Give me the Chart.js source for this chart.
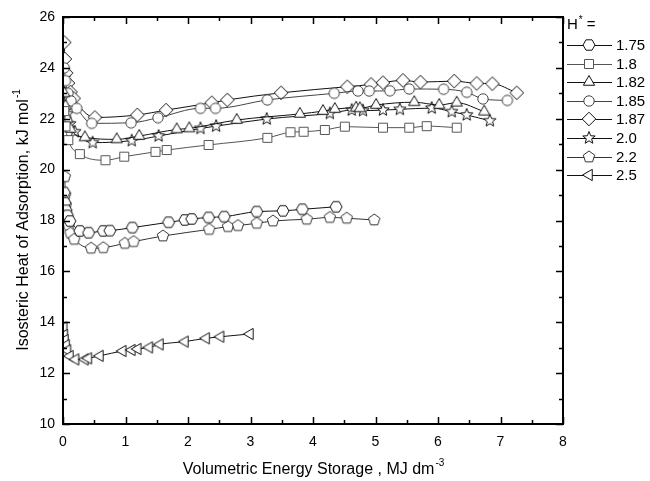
<!DOCTYPE html>
<html>
<head>
<meta charset="utf-8">
<script src="https://cdn.jsdelivr.net/npm/chart.js@4.4.1/dist/chart.umd.min.js"></script>
<style>
  html, body { margin: 0; padding: 0; background: #fff; }
  #wrap { width: 650px; height: 481px; position: relative; }
</style>
</head>
<body>
<div id="wrap"><canvas id="heatChart" width="650" height="481"></canvas></div>
<script>
// --- data ---
const seriesNames = ['1.75', '1.8', '1.82', '1.85', '1.87', '2.0', '2.2', '2.5'];

const h175X = [0.02, 0.03, 0.05, 0.07, 0.11, 0.27, 0.41, 0.645, 0.75, 1.11, 1.69, 1.95, 2.06, 2.33, 2.58, 3.1, 3.52, 3.83, 4.37];
const h175Y = [19.1, 18.7, 18.4, 18.2, 17.98, 17.59, 17.52, 17.59, 17.6, 17.72, 17.93, 18.02, 18.06, 18.12, 18.15, 18.35, 18.38, 18.44, 18.54];

const h18X = [0.02, 0.04, 0.085, 0.27, 0.68, 0.98, 1.48, 1.66, 2.33, 3.27, 3.64, 3.85, 4.19, 4.51, 5.12, 5.54, 5.82, 6.3];
const h18Y = [22.3, 21.7, 21.16, 20.61, 20.37, 20.51, 20.7, 20.77, 20.97, 21.25, 21.47, 21.49, 21.56, 21.69, 21.65, 21.65, 21.71, 21.65];

const h182X = [0.02, 0.04, 0.07, 0.12, 0.35, 0.86, 1.22, 1.82, 2.02, 2.78, 3.79, 4.16, 4.35, 4.69, 4.75, 5.01, 5.62, 6.02, 6.3, 6.74];
const h182Y = [23.0, 22.5, 22.0, 21.6, 21.27, 21.19, 21.32, 21.58, 21.62, 21.95, 22.19, 22.3, 22.38, 22.43, 22.41, 22.54, 22.65, 22.54, 22.63, 22.28];

const h185X = [0.02, 0.04, 0.08, 0.13, 0.22, 0.46, 1.09, 1.52, 2.2, 2.44, 3.27, 4.34, 4.72, 4.9, 5.23, 5.54, 6.09, 6.46, 6.72, 7.11];
const h185Y = [24.0, 23.5, 23.0, 22.7, 22.41, 21.82, 21.84, 22.04, 22.41, 22.41, 22.74, 23.0, 23.09, 23.09, 23.1, 23.17, 23.16, 23.04, 22.78, 22.72];

const h187X = [0.02, 0.03, 0.05, 0.08, 0.12, 0.17, 0.51, 1.19, 1.65, 2.38, 2.63, 3.49, 4.55, 4.93, 5.12, 5.44, 5.72, 6.26, 6.62, 6.87, 7.26];
const h187Y = [25.0, 24.35, 23.8, 23.4, 23.05, 22.8, 22.05, 22.15, 22.34, 22.63, 22.74, 23.02, 23.26, 23.35, 23.42, 23.51, 23.44, 23.48, 23.39, 23.38, 23.02];

const h20X = [0.02, 0.04, 0.07, 0.11, 0.19, 0.475, 1.1, 1.53, 2.2, 2.45, 3.26, 4.27, 4.62, 4.8, 5.12, 5.39, 5.9, 6.22, 6.46, 6.83];
const h20Y = [23.6, 22.8, 22.2, 21.8, 21.49, 21.06, 21.14, 21.32, 21.62, 21.71, 21.99, 22.21, 22.34, 22.32, 22.34, 22.37, 22.42, 22.28, 22.15, 21.92];

const h22X = [0.03, 0.035, 0.045, 0.06, 0.09, 0.12, 0.18, 0.45, 0.645, 0.99, 1.13, 1.6, 2.34, 2.64, 2.8, 3.1, 3.36, 3.9, 4.27, 4.54, 4.98];
const h22Y = [19.72, 19.0, 18.6, 18.2, 17.8, 17.5, 17.26, 16.91, 16.93, 17.1, 17.17, 17.39, 17.65, 17.76, 17.8, 17.89, 17.98, 18.05, 18.12, 18.09, 18.02];

const h25X = [0.01, 0.02, 0.03, 0.05, 0.07, 0.11, 0.2, 0.35, 0.405, 0.59, 0.955, 1.1, 1.195, 1.38, 1.55, 1.95, 2.29, 2.52, 2.99];
const h25Y = [13.8, 13.5, 13.3, 13.1, 12.9, 12.67, 12.54, 12.54, 12.58, 12.68, 12.87, 12.91, 12.95, 13.01, 13.13, 13.24, 13.37, 13.43, 13.54];

const xTicks = [0, 1, 2, 3, 4, 5, 6, 7, 8];
const yTicks = [10, 12, 14, 16, 18, 20, 22, 24, 26];

// --- markers (open symbols drawn on small canvases) ---
function makeMarker(shape, color) {
    const s = 16, c = s / 2;
    const cv = document.createElement('canvas');
    cv.width = s; cv.height = s;
    const g = cv.getContext('2d');
    g.strokeStyle = color;
    g.fillStyle = '#fff';
    g.lineWidth = 1;
    g.beginPath();
    const poly = (n, r, rot) => {
        for (let i = 0; i < n; i++) {
            const a = rot + i * 2 * Math.PI / n;
            const px = c + r * Math.cos(a), py = c + r * Math.sin(a);
            i === 0 ? g.moveTo(px, py) : g.lineTo(px, py);
        }
        g.closePath();
    };
    if (shape === 'hex') poly(6, 6, 0);
    else if (shape === 'square') g.rect(c - 4.5, c - 4.5, 9, 9);
    else if (shape === 'tri') poly(3, 6.5, -Math.PI / 2);
    else if (shape === 'circle') g.arc(c, c, 5.2, 0, Math.PI * 2);
    else if (shape === 'diamond') poly(4, 6.8, -Math.PI / 2);
    else if (shape === 'pent') poly(5, 6, -Math.PI / 2);
    else if (shape === 'ltri') poly(3, 6.5, Math.PI);
    else if (shape === 'star') {
        for (let i = 0; i < 10; i++) {
            const r = i % 2 === 0 ? 6.5 : 2.8;
            const a = -Math.PI / 2 + i * Math.PI / 5;
            const px = c + r * Math.cos(a), py = c + r * Math.sin(a);
            i === 0 ? g.moveTo(px, py) : g.lineTo(px, py);
        }
        g.closePath();
    }
    g.fill();
    g.stroke();
    return cv;
}

const seriesX = [h175X, h18X, h182X, h185X, h187X, h20X, h22X, h25X];
const seriesY = [h175Y, h18Y, h182Y, h185Y, h187Y, h20Y, h22Y, h25Y];
const shapes = ['hex', 'square', 'tri', 'circle', 'diamond', 'star', 'pent', 'ltri'];
const colors = ['#111', '#555', '#111', '#444', '#111', '#111', '#333', '#111'];
const markers = shapes.map((s, i) => makeMarker(s, colors[i]));

const datasets = seriesNames.map((name, i) => ({
    label: name,
    data: seriesX[i].map((x, j) => ({ x: x, y: seriesY[i][j] })),
    showLine: true,
    borderColor: colors[i],
    borderWidth: 1,
    cubicInterpolationMode: 'monotone',
    pointStyle: markers[i],
    pointRadius: 6,
    pointHoverRadius: 6
}));

const FONT = '"Liberation Sans", Arial, sans-serif';

// 轴框、内向刻度、标题和图例
const framePlugin = {
    id: 'frame',
    afterDraw(chart) {
        const ctx = chart.ctx;
        const a = chart.chartArea;
        const xs = chart.scales.x, ys = chart.scales.y;
        ctx.save();
        ctx.strokeStyle = '#000';
        ctx.lineWidth = 2;
        ctx.strokeRect(a.left, a.top, a.right - a.left, a.bottom - a.top);

        ctx.lineWidth = 1.5;
        ctx.beginPath();
        for (let v = 0; v <= 8; v += 0.5) {
            const px = Math.round(xs.getPixelForValue(v)) + 0.5;
            const len = Number.isInteger(v) ? 7 : 4;
            ctx.moveTo(px, a.bottom); ctx.lineTo(px, a.bottom - len);
            ctx.moveTo(px, a.top); ctx.lineTo(px, a.top + len);
        }
        for (let v = 10; v <= 26; v += 1) {
            const py = Math.round(ys.getPixelForValue(v)) + 0.5;
            const len = v % 2 === 0 ? 7 : 4;
            ctx.moveTo(a.left, py); ctx.lineTo(a.left + len, py);
            ctx.moveTo(a.right, py); ctx.lineTo(a.right - len, py);
        }
        ctx.stroke();

        // axis titles with superscripts
        ctx.fillStyle = '#000';
        ctx.textBaseline = 'alphabetic';
        const drawSup = (main, sup, cx, cy) => {
            ctx.font = '16px ' + FONT;
            const w1 = ctx.measureText(main).width;
            ctx.font = '10px ' + FONT;
            const w2 = ctx.measureText(sup).width;
            const x0 = cx - (w1 + w2) / 2;
            ctx.font = '16px ' + FONT;
            ctx.textAlign = 'left';
            ctx.fillText(main, x0, cy);
            ctx.font = '10px ' + FONT;
            ctx.fillText(sup, x0 + w1 + 1, cy - 8);
        };
        drawSup('Volumetric Energy Storage , MJ dm', '-3', (a.left + a.right) / 2, 474);
        ctx.save();
        ctx.translate(28, (a.top + a.bottom) / 2);
        ctx.rotate(-Math.PI / 2);
        drawSup('Isosteric Heat of Adsorption, kJ mol', '-1', 0, 0);
        ctx.restore();

        // legend
        ctx.textAlign = 'left';
        ctx.textBaseline = 'middle';
        ctx.font = '15px ' + FONT;
        ctx.fillText('H', 567, 25);
        const hw = ctx.measureText('H').width;
        ctx.font = '10px ' + FONT;
        ctx.fillText('*', 567 + hw + 1, 20);
        ctx.font = '15px ' + FONT;
        ctx.fillText('=', 567 + hw + 9, 25);
        seriesNames.forEach((name, i) => {
            const ly = Math.round(45 + i * 18.6) + 0.5;
            ctx.strokeStyle = colors[i];
            ctx.lineWidth = 1;
            ctx.beginPath();
            ctx.moveTo(567, ly); ctx.lineTo(612, ly);
            ctx.stroke();
            ctx.drawImage(markers[i], 589 - 8, ly - 8.5);
            ctx.fillStyle = '#000';
            ctx.fillText(name, 616, ly);
        });
        ctx.restore();
    }
};

new Chart(document.getElementById('heatChart').getContext('2d'), {
    type: 'scatter',
    data: { datasets: datasets },
    options: {
        responsive: false,
        animation: false,
        layout: { padding: { top: 17, right: 87, left: 0, bottom: 0 } },
        scales: {
            x: {
                type: 'linear',
                min: 0, max: 8,
                afterBuildTicks: (s) => { s.ticks = xTicks.map(v => ({ value: v })); },
                afterFit: (s) => { s.height = 57; },
                grid: { display: false, drawTicks: false },
                border: { display: false },
                ticks: { color: '#000', padding: 10, font: { size: 14, family: FONT } }
            },
            y: {
                type: 'linear',
                min: 10, max: 26,
                afterBuildTicks: (s) => { s.ticks = yTicks.map(v => ({ value: v })); },
                afterFit: (s) => { s.width = 63; },
                grid: { display: false, drawTicks: false },
                border: { display: false },
                ticks: { color: '#000', padding: 8, font: { size: 14, family: FONT } }
            }
        },
        plugins: {
            legend: { display: false },
            tooltip: { enabled: false }
        }
    },
    plugins: [framePlugin]
});
</script>
</body>
</html>
